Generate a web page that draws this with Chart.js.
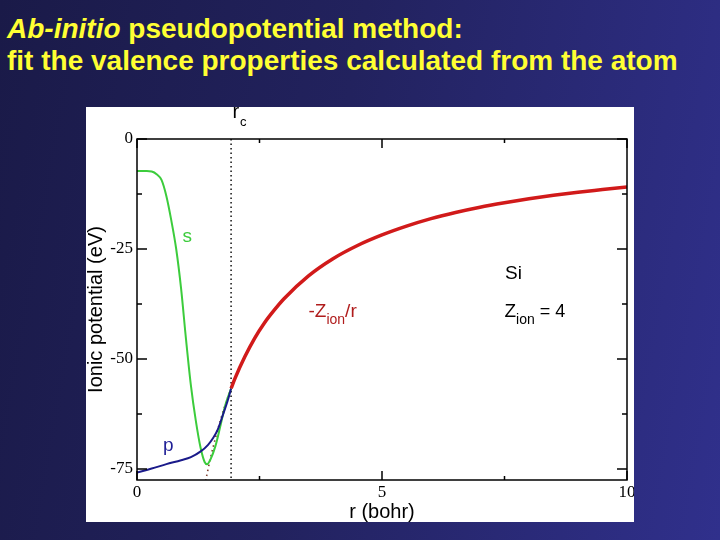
<!DOCTYPE html>
<html lang="en">
<head>
  <meta charset="UTF-8">
  <title>Ab-initio pseudopotential method</title>
  <script src="https://cdn.jsdelivr.net/npm/chart.js"></script>
  <style>
    html, body {
      margin: 0;
      padding: 0;
      width: 720px;
      height: 540px;
      overflow: hidden;
    }
    body {
      position: relative;
      background: linear-gradient(100deg, #1a1a48 0%, #22225e 45%, #30308c 100%);
      font-family: 'Liberation Sans', Arial, sans-serif;
    }
    .slide-title {
      position: absolute;
      left: 7px;
      top: 13px;
      color: #ffff33;
      font-weight: bold;
      font-size: 28px;
      line-height: 32px;
      white-space: nowrap;
    }
    .chart-box {
      position: absolute;
      left: 86px;
      top: 107px;
      width: 548px;
      height: 415px;
      background: #ffffff;
    }
  </style>
</head>
<body>
  <div class="slide-title">
    <div><i>Ab-initio</i> pseudopotential method:</div>
    <div>fit the valence properties calculated from the atom</div>
  </div>

  <div class="chart-box">
    <canvas id="pseudo"></canvas>
  </div>

  <script>
    // values (r in bohr, V in eV)
    const sR = [0, 0.2, 0.3, 0.4, 0.5, 0.6, 0.7, 0.8, 0.9, 1.0, 1.1, 1.2, 1.3, 1.38, 1.43, 1.5, 1.6, 1.7, 1.8, 1.92];
    const sV = [-7.3, -7.3, -7.4, -8.0, -9.3, -13.0, -18.5, -25.0, -34.0, -45.5, -56.0, -64.0, -70.3, -73.4, -73.9, -72.8, -69.8, -65.3, -60.6, -56.7];

    const pR = [0, 0.3, 0.6, 0.9, 1.1, 1.3, 1.45, 1.55, 1.65, 1.75, 1.85, 1.92];
    const pV = [-75.8, -74.9, -73.9, -73.0, -72.3, -71.0, -69.5, -68.0, -66.0, -62.8, -59.5, -56.7];

    const coulR = [1.92, 2, 2.2, 2.4, 2.6, 2.8, 3, 3.5, 4, 4.5, 5, 5.5, 6, 6.5, 7, 7.5, 8, 8.5, 9, 9.5, 10];
    const coulV = [-56.7, -54.4, -49.5, -45.3, -41.8, -38.9, -36.3, -31.1, -27.2, -24.2, -21.8, -19.8, -18.1, -16.7, -15.5, -14.5, -13.6, -12.8, -12.1, -11.5, -10.9];

    const coulInR = [1.4, 1.5, 1.6, 1.7, 1.8, 1.92];
    const coulInV = [-77.7, -72.5, -68.0, -64.0, -60.4, -56.7];

    const rc = 1.92;
    const xTicks = [0, 5, 10];
    const xMinor = [2.5, 7.5];
    const yTicks = [0, -25, -50, -75];
    const yMinor = [-12.5, -37.5, -62.5];

    function pts(xs, ys) {
      return xs.map((x, i) => ({ x: x, y: ys[i] }));
    }

    // label with a subscript: [text, size, dy] pieces written one after another
    function subText(ctx, x, y, parts) {
      parts.forEach(([t, size, dy]) => {
        ctx.font = size + 'px "Liberation Sans"';
        ctx.fillText(t, x, y + dy);
        x += ctx.measureText(t).width;
      });
    }

    // frame with inward ticks on all four sides, plus the text labels
    const decorations = {
      id: 'decorations',
      afterDraw(chart) {
        const ctx = chart.ctx;
        const a = chart.chartArea;
        const xs = chart.scales.x;
        const ys = chart.scales.y;
        ctx.save();
        ctx.strokeStyle = '#000';
        ctx.lineWidth = 1.5;
        ctx.strokeRect(a.left, a.top, a.right - a.left, a.bottom - a.top);

        ctx.beginPath();
        const tick = (vals, len, horiz) => {
          vals.forEach(v => {
            if (horiz) {
              const px = xs.getPixelForValue(v);
              ctx.moveTo(px, a.bottom); ctx.lineTo(px, a.bottom - len);
              ctx.moveTo(px, a.top); ctx.lineTo(px, a.top + len);
            } else {
              const py = ys.getPixelForValue(v);
              ctx.moveTo(a.left, py); ctx.lineTo(a.left + len, py);
              ctx.moveTo(a.right, py); ctx.lineTo(a.right - len, py);
            }
          });
        };
        tick(xTicks, 9, true);
        tick(xMinor, 4, true);
        tick(yTicks, 10, false);
        tick(yMinor, 5, false);
        ctx.stroke();

        ctx.textBaseline = 'alphabetic';
        ctx.textAlign = 'left';
        const X = v => xs.getPixelForValue(v);
        const Y = v => ys.getPixelForValue(v);

        // r_c above the frame
        ctx.fillStyle = '#000';
        ctx.font = '20px "Liberation Sans"';
        ctx.fillText('r', X(rc) + 1.5, 11);
        ctx.font = '13px "Liberation Sans"';
        ctx.fillText('c', X(rc) + 9, 19);

        ctx.font = '19px "Liberation Sans"';
        ctx.fillStyle = '#3ccc3c';
        ctx.fillText('s', X(0.93), Y(-23.5));
        ctx.fillStyle = '#1f1f96';
        ctx.fillText('p', X(0.53), Y(-70.8));

        ctx.fillStyle = '#000';
        ctx.font = '19px "Liberation Sans"';
        ctx.fillText('Si', X(7.51), Y(-31.8));

        const yLab = Y(-40.5);
        ctx.fillStyle = '#b01c1c';
        subText(ctx, X(3.5), yLab, [['-Z', 19, 0], ['ion', 14, 7], ['/r', 19, 0]]);
        ctx.fillStyle = '#000';
        subText(ctx, X(7.5), yLab, [['Z', 19, 0], ['ion', 14, 7], [' = 4', 18, 0]]);
        ctx.restore();
      }
    };

    new Chart(document.getElementById('pseudo').getContext('2d'), {
      type: 'line',
      data: {
        datasets: [
          {
            label: '-Zion/r',
            data: pts(coulR, coulV),
            borderColor: '#d11a1a',
            borderWidth: 3.5,
            cubicInterpolationMode: 'monotone',
            order: 0
          },
          {
            label: 'p',
            data: pts(pR, pV),
            borderColor: '#1a1a8a',
            borderWidth: 2,
            cubicInterpolationMode: 'monotone',
            order: 1
          },
          {
            label: 's',
            data: pts(sR, sV),
            borderColor: '#3ccc3c',
            borderWidth: 2,
            cubicInterpolationMode: 'monotone',
            order: 2
          },
          {
            label: '-Zion/r inside rc',
            data: pts(coulInR, coulInV),
            borderColor: '#7a3a28',
            borderWidth: 1.6,
            borderDash: [1.5, 3.5],
            cubicInterpolationMode: 'monotone',
            order: 3
          },
          {
            label: 'rc',
            data: [{ x: rc, y: 0 }, { x: rc, y: -77.5 }],
            borderColor: '#000',
            borderWidth: 1.4,
            borderDash: [1.5, 3],
            order: 4
          }
        ]
      },
      options: {
        responsive: true,
        maintainAspectRatio: false,
        animation: false,
        events: [],
        elements: { point: { radius: 0 } },
        layout: { padding: { top: 32, right: 7, left: 0, bottom: 0 } },
        plugins: {
          legend: { display: false },
          tooltip: { enabled: false }
        },
        scales: {
          x: {
            type: 'linear',
            min: 0,
            max: 10,
            grid: { display: false, drawTicks: false },
            border: { display: false },
            ticks: {
              color: '#000',
              padding: 2,
              maxRotation: 0,
              font: { family: 'Liberation Serif', size: 17 }
            },
            title: {
              display: true,
              text: 'r (bohr)',
              color: '#000',
              padding: { top: 0, bottom: 0 },
              font: { family: 'Liberation Sans', size: 20, lineHeight: 1 }
            },
            afterBuildTicks: s => { s.ticks = xTicks.map(v => ({ value: v })); },
            afterFit: s => { s.height = 42; s.paddingLeft = 0; s.paddingRight = 0; }
          },
          y: {
            min: -77.5,
            max: 0,
            grid: { display: false, drawTicks: false },
            border: { display: false },
            ticks: {
              color: '#000',
              padding: 4,
              font: { family: 'Liberation Serif', size: 17 }
            },
            title: {
              display: true,
              text: 'Ionic potential (eV)',
              color: '#000',
              padding: { top: 0, bottom: 0 },
              font: { family: 'Liberation Sans', size: 20, lineHeight: 1 }
            },
            afterBuildTicks: s => { s.ticks = yTicks.map(v => ({ value: v })); },
            afterFit: s => { s.width = 51; s.paddingTop = 0; s.paddingBottom = 0; }
          }
        }
      },
      plugins: [decorations]
    });
  </script>
</body>
</html>
